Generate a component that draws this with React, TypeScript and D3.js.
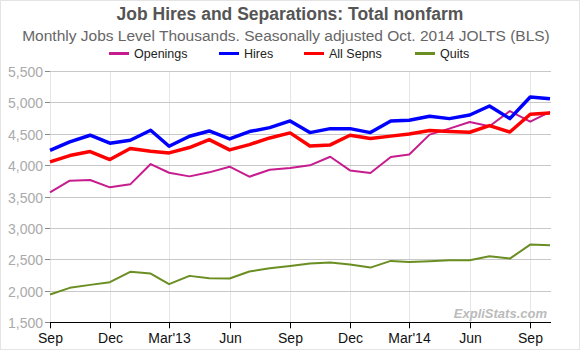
import React from 'react';
import * as d3 from 'd3';

const months = [
  '2012-09', '2012-10', '2012-11', '2012-12', '2013-01', '2013-02', '2013-03',
  '2013-04', '2013-05', '2013-06', '2013-07', '2013-08', '2013-09', '2013-10',
  '2013-11', '2013-12', '2014-01', '2014-02', '2014-03', '2014-04', '2014-05',
  '2014-06', '2014-07', '2014-08', '2014-09', '2014-10',
];

const openings = [
  3566, 3751, 3762, 3646, 3693, 4016, 3878, 3820, 3884, 3974, 3815, 3926, 3952,
  3995, 4132, 3915, 3873, 4127, 4169, 4484, 4579, 4685, 4616, 4859, 4690, 4844,
];
const hires = [
  4232, 4368, 4474, 4347, 4394, 4553, 4299, 4458, 4542, 4415, 4532, 4595, 4701,
  4516, 4579, 4579, 4516, 4701, 4712, 4775, 4738, 4796, 4939, 4738, 5082, 5055,
];
const allSepns = [
  4050, 4151, 4214, 4087, 4262, 4220, 4193, 4278, 4405, 4241, 4325, 4431, 4511,
  4304, 4320, 4474, 4421, 4460, 4495, 4548, 4532, 4521, 4627, 4526, 4807, 4828,
];
const quits = [
  1942, 2048, 2095, 2138, 2302, 2275, 2106, 2238, 2201, 2196, 2307, 2360, 2395,
  2434, 2450, 2418, 2370, 2476, 2460, 2471, 2487, 2487, 2550, 2513, 2735, 2725,
];

const seriesNames = ['Openings', 'Hires', 'All Sepns', 'Quits'];
const seriesColors = ['#c71c8e', '#0000ff', '#ff0000', '#6b8e23'];
const seriesWidths = [2, 3.5, 3.5, 2];

const yTicks = [1500, 2000, 2500, 3000, 3500, 4000, 4500, 5000, 5500];
const xTicks = ['2012-09', '2012-12', '2013-03', '2013-06', '2013-09', '2013-12', '2014-03', '2014-06', '2014-09'];
const xTickLabels = ['Sep', 'Dec', "Mar'13", 'Jun', 'Sep', 'Dec', "Mar'14", 'Jun', 'Sep'];

const legendX = [109, 219, 304, 415];

const parseMonth = d3.timeParse('%Y-%m');

export default function App() {
  const width = 580;
  const height = 350;
  const left = 50;
  const right = 551;
  const top = 70.7;
  const bottom = 322.3;

  const dates = months.map(m => parseMonth(m) as Date);
  const x = d3.scaleTime()
    .domain([dates[0], dates[dates.length - 1]])
    .range([left, 550]);
  const y = d3.scaleLinear().domain([1500, 5500]).range([bottom, top]);

  const allSeries = [openings, hires, allSepns, quits];
  const line = d3.line<number>()
    .x((_, i) => x(dates[i]))
    .y(d => y(d));

  const font = 'Arial, "Liberation Sans", sans-serif';

  return (
    <div style={{ position: 'absolute', left: 0, top: 0 }}>
      <svg width={width} height={height} style={{ display: 'block', fontFamily: font }}>
        <rect x={0.5} y={0.5} width={width - 1} height={height - 1} fill="#fff" stroke="#e4e4e4" />

        <text x={290} y={20} textAnchor="middle" fontSize={17.5} fontWeight="bold" fill="#555">
          Job Hires and Separations: Total nonfarm
        </text>
        <text x={286} y={41} textAnchor="middle" fontSize={15.5} fill="#666">
          Monthly Jobs Level Thousands. Seasonally adjusted Oct. 2014 JOLTS (BLS)
        </text>

        {seriesNames.map((name, i) => (
          <g key={name} transform={`translate(${legendX[i]},53.5)`}>
            <line x1={0} x2={20} y1={0} y2={0} stroke={seriesColors[i]} strokeWidth={3} />
            <text x={25} y={4.3} fontSize={12.5} fill="#222">{name}</text>
          </g>
        ))}

        {xTicks.map(t => {
          const xp = Math.round(x(parseMonth(t) as Date)) + 0.5;
          return <line key={'v' + t} x1={xp} x2={xp} y1={top} y2={bottom} stroke="#e6e6e6" />;
        })}

        {yTicks.map(t => {
          const yp = Math.round(y(t)) + 0.5;
          return (
            <g key={'h' + t}>
              {t > 1500 && <line x1={left} x2={right} y1={yp} y2={yp} stroke="#c8c8c8" />}
              <line x1={left - 5} x2={left} y1={yp} y2={yp} stroke="#888" />
              <text x={43} y={yp + 5} textAnchor="end" fontSize={14} fill="#aaa">
                {d3.format(',')(t)}
              </text>
            </g>
          );
        })}

        {allSeries.map((s, i) => (
          <path
            key={seriesNames[i]}
            d={line(s) || ''}
            fill="none"
            stroke={seriesColors[i]}
            strokeWidth={seriesWidths[i]}
            strokeLinejoin="round"
          />
        ))}

        <line x1={left} x2={right} y1={Math.round(bottom) + 0.5} y2={Math.round(bottom) + 0.5} stroke="#000" />
        {xTicks.map((t, i) => {
          const xp = Math.round(x(parseMonth(t) as Date)) + 0.5;
          return (
            <g key={'xt' + t}>
              <line x1={xp} x2={xp} y1={bottom} y2={bottom + 6} stroke="#000" />
              <text x={xp} y={343} textAnchor="middle" fontSize={14} fill="#111">
                {xTickLabels[i]}
              </text>
            </g>
          );
        })}

        <text x={547} y={318} textAnchor="end" fontSize={13} fontWeight="bold" fontStyle="italic" fill="#bbb">
          ExpliStats.com
        </text>
      </svg>
    </div>
  );
}
